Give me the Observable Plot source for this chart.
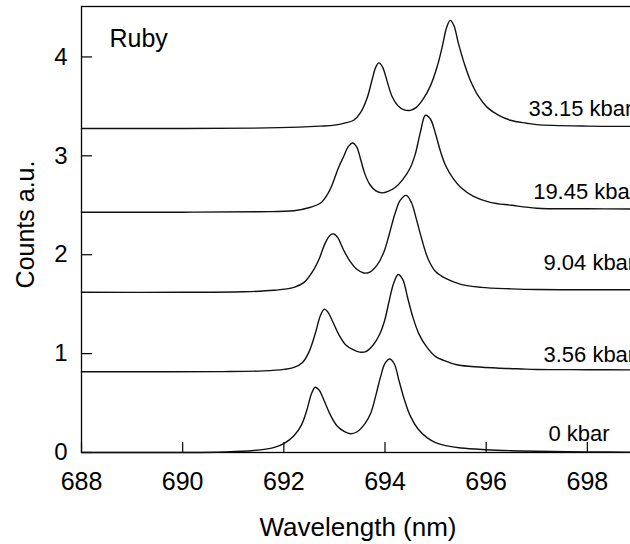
<!DOCTYPE html>
<html><head><meta charset="utf-8">
<script src="https://cdn.jsdelivr.net/npm/d3@7"></script>
<script src="https://cdn.jsdelivr.net/npm/@observablehq/plot@0.6"></script>
<style>
html,body{margin:0;padding:0;background:#fff;overflow:hidden;width:630px;height:544px;}
#chart svg{display:block;max-width:none !important;height:544px !important;}
</style></head><body><div id="chart"></div>
<script>
const pressures = ["0 kbar", "3.56 kbar", "9.04 kbar", "19.45 kbar", "33.15 kbar"];
const sampleName = "Ruby";
const xLabel = "Wavelength (nm)";
const yLabel = "Counts a.u.";
const xTicks = [688, 690, 692, 694, 696, 698, 700];
const xTickLabels = [688, 690, 692, 694, 696, 698];
const yTicks = [0, 1, 2, 3, 4];

const wl0 = [688.0, 689.0, 690.0, 690.8, 691.4, 691.8, 692.0, 692.2, 692.35, 692.45, 692.55, 692.62, 692.7, 692.8, 692.92, 693.05, 693.2, 693.32, 693.45, 693.6, 693.72, 693.82, 693.92, 694.0, 694.09, 694.18, 694.28, 694.38, 694.5, 694.65, 694.83, 695.0, 695.2, 695.5, 696.0, 696.5, 697.0, 698.0, 698.9];
const counts0 = [0, 0, 0, 0.005, 0.02, 0.05, 0.09, 0.17, 0.28, 0.42, 0.6, 0.66, 0.63, 0.52, 0.38, 0.27, 0.21, 0.19, 0.21, 0.29, 0.4, 0.58, 0.78, 0.9, 0.945, 0.9, 0.72, 0.54, 0.37, 0.24, 0.15, 0.1, 0.07, 0.045, 0.028, 0.018, 0.012, 0.006, 0.004];

const wl1 = [688.0, 689.5, 690.8, 691.6, 692.0, 692.2, 692.37, 692.5, 692.62, 692.72, 692.8, 692.87, 692.97, 693.09, 693.22, 693.37, 693.5, 693.62, 693.77, 693.89, 693.99, 694.09, 694.17, 694.26, 694.35, 694.45, 694.55, 694.67, 694.82, 695.0, 695.17, 695.4, 695.7, 696.2, 696.7, 697.0, 698.0, 698.9];
const counts1 = [0.817, 0.817, 0.818, 0.825, 0.84, 0.86, 0.91, 1.02, 1.2, 1.38, 1.45, 1.42, 1.32, 1.19, 1.09, 1.04, 1.015, 1.02, 1.09, 1.19, 1.33, 1.55, 1.71, 1.8, 1.75, 1.56, 1.37, 1.2, 1.07, 0.97, 0.93, 0.89, 0.87, 0.855, 0.845, 0.84, 0.837, 0.835];

const wl2 = [688.0, 690.0, 691.2, 691.8, 692.2, 692.4, 692.58, 692.7, 692.82, 692.92, 692.99, 693.07, 693.17, 693.3, 693.45, 693.58, 693.7, 693.85, 693.98, 694.08, 694.2, 694.3, 694.42, 694.52, 694.62, 694.72, 694.85, 695.0, 695.2, 695.5, 695.9, 696.5, 697.0, 698.0, 698.9];
const counts2 = [1.62, 1.62, 1.625, 1.64, 1.67, 1.72, 1.84, 1.96, 2.12, 2.2, 2.21, 2.17, 2.06, 1.94, 1.85, 1.815, 1.825, 1.9, 2.03, 2.2, 2.42, 2.55, 2.6, 2.53, 2.36, 2.17, 1.96, 1.83, 1.76, 1.7, 1.67, 1.655, 1.648, 1.646, 1.645];

const wl3 = [688.0, 690.0, 691.5, 692.2, 692.53, 692.72, 692.85, 692.95, 693.08, 693.18, 693.27, 693.36, 693.44, 693.52, 693.6, 693.7, 693.82, 693.94, 694.06, 694.2, 694.35, 694.5, 694.6, 694.7, 694.8, 694.9, 695.0, 695.1, 695.2, 695.35, 695.5, 695.75, 696.08, 696.5, 697.0, 698.0, 698.9];
const counts3 = [2.43, 2.43, 2.435, 2.445, 2.48, 2.52, 2.6, 2.7, 2.88, 2.99, 3.09, 3.13, 3.09, 2.96, 2.82, 2.71, 2.645, 2.625, 2.64, 2.68, 2.76, 2.88, 3.02, 3.24, 3.41, 3.37, 3.22, 3.04, 2.9, 2.77, 2.68, 2.59, 2.53, 2.5, 2.47, 2.465, 2.462];

const wl4 = [688.0, 690.0, 691.4, 692.3, 692.72, 693.0, 693.2, 693.38, 693.52, 693.65, 693.75, 693.82, 693.88, 693.95, 694.05, 694.14, 694.25, 694.38, 694.5, 694.62, 694.75, 694.9, 695.03, 695.13, 695.22, 695.29, 695.36, 695.45, 695.57, 695.69, 695.85, 696.02, 696.25, 696.48, 696.8, 697.0, 698.0, 698.9];
const counts4 = [3.276, 3.276, 3.28, 3.29, 3.3, 3.31, 3.33, 3.36, 3.44, 3.59, 3.78, 3.9, 3.94, 3.9, 3.74, 3.6, 3.51, 3.465, 3.46, 3.49, 3.57, 3.71, 3.9, 4.1, 4.3, 4.37, 4.32, 4.14, 3.93, 3.76, 3.6, 3.49, 3.41, 3.36, 3.33, 3.315, 3.3, 3.298];

const series = [[wl0, counts0], [wl1, counts1], [wl2, counts2], [wl3, counts3], [wl4, counts4]];
const rows = series.flatMap(([w, c], i) => w.map((x, j) => ({wl: x, counts: c[j], p: pressures[i]})));

// label anchor: the point of each spectrum at 697 nm
const anchors = series.map(([w, c], i) => {
  const j = w.indexOf(697.0);
  return {wl: w[j], counts: c[j], p: pressures[i]};
});
const labelOffsets = [[11.7, -10.5], [6.7, -7], [6.7, -19.7], [-3.6, -9.7], [-8.3, -8.6]];

const font = "'Liberation Sans', Arial, Helvetica, sans-serif";
const labelMarks = anchors.map((a, i) => Plot.text([a], {
  x: "wl", y: "counts", text: "p", textAnchor: "start", lineAnchor: "bottom",
  dx: labelOffsets[i][0], dy: labelOffsets[i][1], fontSize: 22, fill: "#000"
}));

const chart = Plot.plot({
  width: 700, height: 544,
  marginLeft: 81, marginRight: 12, marginTop: 6, marginBottom: 92,
  style: {fontFamily: font, color: "#000", background: "#fff"},
  x: {domain: [688, 700]},
  y: {domain: [0, 4.51]},
  marks: [
    Plot.frame({stroke: "#000", strokeWidth: 1.3}),
    Plot.axisX(xTicks, {tickSize: 10, dy: -10, tickFormat: () => "", label: null, strokeWidth: 1.2}),
    Plot.axisX(xTickLabels, {tickSize: 0, tickPadding: 20, fontSize: 25, label: null, tickFormat: d => String(d)}),
    Plot.axisY(yTicks, {tickSize: 11, dx: 11, tickFormat: () => "", label: null, strokeWidth: 1.2}),
    Plot.axisY(yTicks, {tickSize: 0, tickPadding: 14, fontSize: 24, label: null, tickFormat: d => String(d)}),
    Plot.line(rows, {x: "wl", y: "counts", z: "p", stroke: "#111", strokeWidth: 1.4, curve: "catmull-rom"}),
    ...labelMarks,
    Plot.text([sampleName], {frameAnchor: "top-left", text: d => d, textAnchor: "start", lineAnchor: "bottom", dx: 28, dy: 40.7, fontSize: 25, fill: "#000"}),
    Plot.text([xLabel], {frameAnchor: "bottom", text: d => d, textAnchor: "middle", lineAnchor: "bottom", dx: -27, dy: 83, fontSize: 26, fill: "#000"}),
    Plot.text([yLabel], {frameAnchor: "left", text: d => d, rotate: -90, textAnchor: "middle", lineAnchor: "bottom", dx: -48, dy: -5, fontSize: 25, fill: "#000"})
  ]
});
document.getElementById("chart").appendChild(chart);
</script></body></html>
